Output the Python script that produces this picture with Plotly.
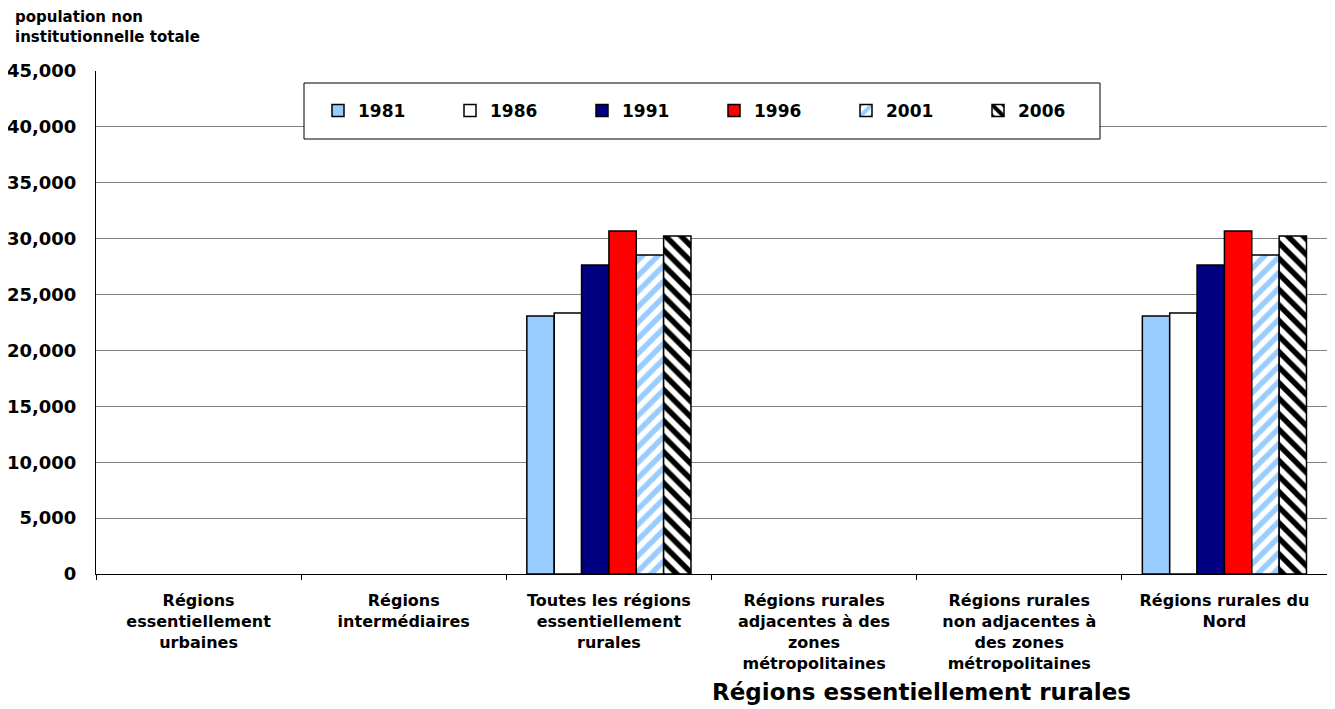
import plotly.graph_objects as go

categories = [
    "Régions<br>essentiellement<br>urbaines",
    "Régions<br>intermédiaires",
    "Toutes les régions<br>essentiellement<br>rurales",
    "Régions rurales<br>adjacentes à des<br>zones<br>métropolitaines",
    "Régions rurales<br>non adjacentes à<br>des zones<br>métropolitaines",
    "Régions rurales du<br>Nord",
]
years = ["1981", "1986", "1991", "1996", "2001", "2006"]
v1981 = [None, None, 23080, None, None, 23080]
v1986 = [None, None, 23350, None, None, 23350]
v1991 = [None, None, 27650, None, None, 27650]
v1996 = [None, None, 30680, None, None, 30680]
v2001 = [None, None, 28540, None, None, 28540]
v2006 = [None, None, 30240, None, None, 30240]
values = [v1981, v1986, v1991, v1996, v2001, v2006]

colors = ["#99ccff", "#ffffff", "#000080", "#ff0000", "#ffffff", "#ffffff"]
patterns = [None, None, None, None,
            dict(shape="/", fgcolor="#99ccff", bgcolor="#ffffff", size=11, solidity=0.5, fgopacity=1),
            dict(shape="\\", fgcolor="#000000", bgcolor="#ffffff", size=11, solidity=0.5, fgopacity=1)]

FONT = "DejaVu Sans, Verdana, sans-serif"

fig = go.Figure()
for y, vals, c, p in zip(years, values, colors, patterns):
    marker = dict(color=c, line=dict(color="#000000", width=1.5))
    if p:
        marker["pattern"] = p
    fig.add_trace(go.Bar(name=y, x=categories, y=vals, marker=marker))

def bf(size):
    return dict(family=FONT, weight="bold", color="#000000", size=size)

# plot area (page pixels): left 96, right 1327, top 71, bottom 574
def px_x(p):
    return (p - 96) / 1231

def px_y(p):
    return (574 - p) / 503

# the page adds an 8px body margin, so the figure is 8px smaller and margins shifted
fig.update_layout(
    width=1327, height=701,
    margin=dict(l=88, r=8, t=63, b=135, autoexpand=False),
    paper_bgcolor="#ffffff", plot_bgcolor="#ffffff",
    barmode="group", bargap=0.2, bargroupgap=0,
    font=dict(family=FONT, color="#000000"),
    showlegend=True,
    legend=dict(
        orientation="h", x=px_x(318), y=px_y(111), xanchor="left", yanchor="middle",
        borderwidth=0, bgcolor="rgba(0,0,0,0)",
        font=bf(17), entrywidth=87, entrywidthmode="pixels",
        itemwidth=30,
    ),
    xaxis=dict(
        automargin=False,
        showline=True, linecolor="#000000", linewidth=1,
        ticks="outside", tickson="boundaries", ticklen=5, tickcolor="#000000",
        tickfont=bf(16), tickangle=0, ticklabelstandoff=12,
    ),
    yaxis=dict(
        automargin=False,
        range=[0, 45000], dtick=5000, tickformat=",d",
        showline=True, linecolor="#000000", linewidth=1,
        showgrid=True, gridcolor="#808080", gridwidth=1,
        tickfont=bf(18), ticks="", zeroline=False, ticklabelstandoff=15,
    ),
    shapes=[
        dict(type="rect", xref="paper", yref="paper",
             x0=px_x(304), x1=px_x(1100), y0=px_y(139), y1=px_y(83),
             line=dict(color="#000000", width=1), fillcolor="#ffffff", layer="above"),
    ],
    annotations=[
        dict(text="population non<br>institutionnelle totale", xref="paper", yref="paper",
             x=px_x(13), y=px_y(6), xanchor="left", yanchor="top", showarrow=False, align="left",
             font=bf(15)),
        dict(text="Régions essentiellement rurales", xref="paper", yref="paper",
             x=px_x(921), y=px_y(677), xanchor="center", yanchor="top", showarrow=False,
             font=bf(23)),
    ],
)

fig.write_html("out.html")
